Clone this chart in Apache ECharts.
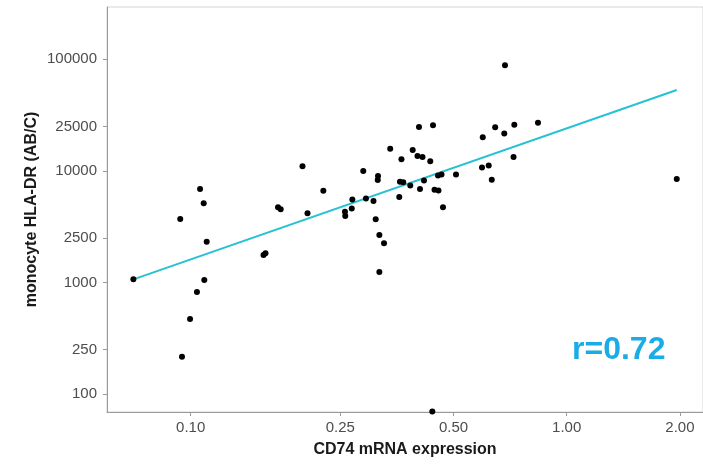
<!DOCTYPE html>
<html>
<head>
<meta charset="utf-8">
<script src="https://cdn.jsdelivr.net/npm/echarts@6/dist/echarts.min.js"></script>
<style>
html, body { margin: 0; padding: 0; background: #fff; }
#chart { width: 703px; height: 465px; }
</style>
</head>
<body>
<div id="chart"></div>
<script>
// CD74 mRNA expression (x) and monocyte HLA-DR (y)
var cd74 = [0.0704, 0.0938, 0.1059, 0.1083, 0.1103, 0.1087, 0.1039, 0.0996, 0.0948,
    0.1562, 0.1581, 0.1707, 0.1735, 0.1983, 0.2045, 0.2253, 0.2572, 0.2577, 0.2691, 0.2681,
    0.2877, 0.2925, 0.3063, 0.3105, 0.3149, 0.3144, 0.3175, 0.3267, 0.3175, 0.3393,
    0.3587, 0.3602, 0.3675, 0.3635, 0.3837, 0.3894, 0.4010, 0.4135, 0.4337, 0.4047,
    0.4410, 0.4173, 0.4072, 0.4451, 0.4560, 0.4547, 0.4645, 0.4688, 0.5077, 0.5953,
    0.6202, 0.6320, 0.5981, 0.6453, 0.6823, 0.6853, 0.7256, 0.7221, 0.8387, 1.962, 0.4391];
var hlaDr = [1066, 3699, 6871, 5114, 2315, 1051, 820, 470, 216,
    1761, 1823, 4709, 4519, 10970, 4170, 6631, 4301, 3936, 5530, 4594,
    9959, 5646, 5362, 3684, 8981, 8273, 2658, 2240, 1240, 15745,
    5823, 7986, 7889, 12700, 7384, 15360, 13570, 13297, 12167, 24698,
    25578, 8187, 6871, 6758, 6662, 9076, 9265, 4709, 9265, 10705,
    11155, 8325, 19962, 24590, 21590, 88330, 25840, 13297, 26980, 8445, 69.7];

// linear fit (log-log) end points
var fitX = [0.0704, 1.962];
var fitY = [1066, 52970];

var xTicks = [0.10, 0.25, 0.50, 1.00, 2.00];
var yTicks = [100, 250, 1000, 2500, 10000, 25000, 100000];
var xRange = [0.0599, 2.304];
var yRange = [69, 293800];

function lg(v) { return Math.log10(v); }

var points = [];
for (var i = 0; i < cd74.length; i++) {
    points.push([lg(cd74[i]), lg(hlaDr[i])]);
}
var fitLine = [];
for (var j = 0; j < fitX.length; j++) {
    fitLine.push([lg(fitX[j]), lg(fitY[j])]);
}

var font = "'Liberation Sans', Arial, sans-serif";

var myChart = echarts.init(document.getElementById('chart'));

var option = {
    animation: false,
    grid: {
        left: 107, top: 7, right: 0, bottom: 53,
        show: true, borderColor: '#d4d4d4', borderWidth: 1
    },
    xAxis: {
        type: 'value',
        min: lg(xRange[0]), max: lg(xRange[1]),
        name: 'CD74 mRNA expression',
        nameLocation: 'middle',
        nameGap: 30,
        nameTextStyle: { fontFamily: font, fontSize: 16, fontWeight: 'bold', color: '#1a1a1a' },
        splitLine: { show: false },
        axisLine: { onZero: false, lineStyle: { color: '#9a9a9a', width: 1 } },
        axisTick: {
            customValues: xTicks.map(lg),
            length: 4, lineStyle: { color: '#9a9a9a' }
        },
        axisLabel: {
            customValues: xTicks.map(lg),
            margin: 8,
            fontFamily: font, fontSize: 15, color: '#4d4d4d',
            formatter: function (v) { return Math.pow(10, v).toFixed(2); }
        }
    },
    yAxis: {
        type: 'value',
        min: lg(yRange[0]), max: lg(yRange[1]),
        name: 'monocyte HLA-DR (AB/C)',
        nameLocation: 'middle',
        nameGap: 67,
        nameMoveOverlap: false,
        nameTextStyle: { fontFamily: font, fontSize: 16, fontWeight: 'bold', color: '#1a1a1a' },
        splitLine: { show: false },
        axisLine: { show: true, onZero: false, lineStyle: { color: '#9a9a9a', width: 1 } },
        axisTick: {
            customValues: yTicks.map(lg),
            length: 4, lineStyle: { color: '#9a9a9a' }
        },
        axisLabel: {
            customValues: yTicks.map(lg),
            margin: 10,
            fontFamily: font, fontSize: 15, color: '#4d4d4d',
            formatter: function (v) { return String(Math.round(Math.pow(10, v))); }
        }
    },
    series: [
        {
            type: 'scatter',
            data: points,
            symbolSize: 6,
            itemStyle: { color: '#000', opacity: 1 },
            z: 3
        },
        {
            type: 'line',
            data: fitLine,
            showSymbol: false,
            lineStyle: { color: '#27c1d4', width: 2 },
            z: 2
        }
    ],
    graphic: [{
        type: 'text',
        left: 572, top: 334,
        style: {
            text: 'r=0.72',
            fontFamily: font, fontSize: 32, fontWeight: 'bold',
            fill: '#1aace6'
        }
    }]
};

myChart.setOption(option);
</script>
</body>
</html>
